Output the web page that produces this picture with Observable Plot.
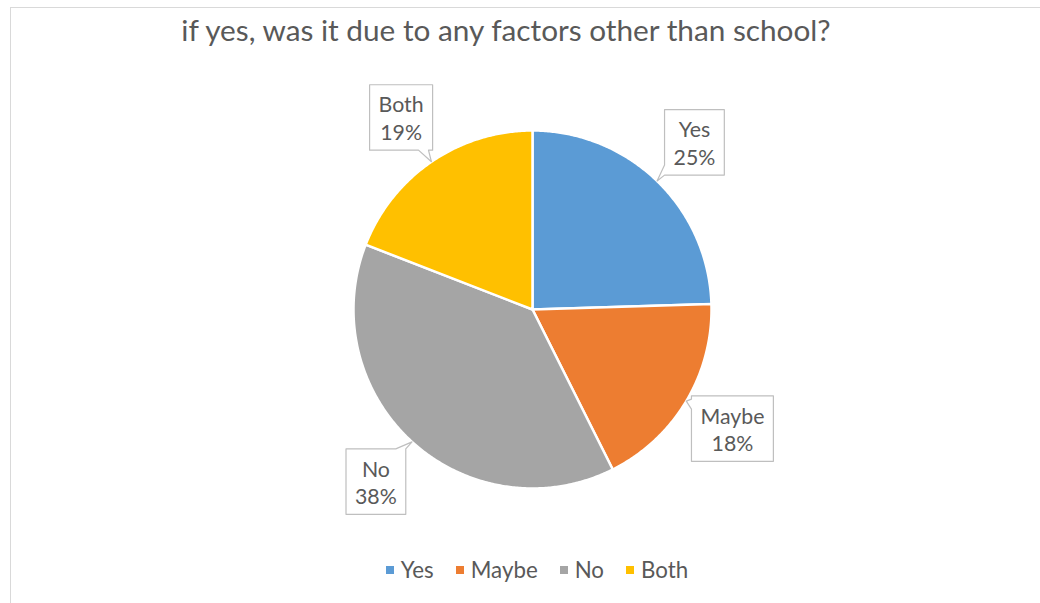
<!DOCTYPE html>
<html>
<head>
<meta charset="utf-8">
<script src="https://cdn.jsdelivr.net/npm/d3@7"></script>
<script src="https://cdn.jsdelivr.net/npm/@observablehq/plot@0.6"></script>
<style>
  html, body { margin: 0; padding: 0; background: #ffffff; }
  body { font-family: Lato, "Open Sans", sans-serif; color: #595959; width: 1040px; height: 603px; overflow: hidden; position: relative; }
  #frame { position: absolute; left: 10px; top: 7px; width: 1100px; height: 700px;
           border-left: 1px solid #d9d9d9; border-top: 1px solid #d9d9d9; pointer-events: none; }
  #title { box-sizing: border-box; height: 60px; width: 992px; margin-left: 10px; text-align: center;
           line-height: 1; white-space: nowrap; color: #595959; }
  #chart svg { display: block; }
  #legend { box-sizing: border-box; height: 58px; width: 1040px; padding-left: 34px;
            display: flex; justify-content: center; align-items: flex-start; color: #595959; }
  .item { display: flex; align-items: center; margin: 0 11px; line-height: 1; }
  .sw { width: 8px; height: 8px; margin-right: 7px; }
</style>
</head>
<body>
<div id="frame"></div>
<div id="title"></div>
<div id="chart"></div>
<div id="legend"></div>
<script>
// ---- data ----
const titleText = "if yes, was it due to any factors other than school?";
const categories = ["Yes", "Maybe", "No", "Both"];
const values = [24.5, 18.1, 38.3, 19.1];
const colors = ["#5B9BD5", "#ED7D31", "#A5A5A5", "#FFC000"];

// ---- layout / style ----
const W = 1040, H = 485, R = 179, CX = 532, CY = 249;
const FONT = "Lato";
const canvas = document.createElement("canvas");
const ctx = canvas.getContext("2d");
function measure(t, fs) { ctx.font = `${fs}px ${FONT}`; return ctx.measureText(t).width; }
const titleFS = 30 * 653 / measure(titleText, 30);
const labelFS = 20 * 64 / measure("Maybe", 20);
const legendFS = 20 * 67 / measure("Maybe", 20);

const titleEl = document.getElementById("title");
titleEl.textContent = titleText;
titleEl.style.fontSize = titleFS + "px";
titleEl.style.fontFamily = FONT;
titleEl.style.paddingTop = (41 - 0.887 * titleFS) + "px";

// ---- slices ----
const total = d3.sum(values);
let cum = 0;
const slices = categories.map((c, i) => {
  const a0 = cum / total * 2 * Math.PI;
  cum += values[i];
  const a1 = cum / total * 2 * Math.PI;
  return { c, v: values[i], a0, a1, mid: (a0 + a1) / 2, pct: Math.round(values[i] / total * 100) };
});
const slicePts = slices.flatMap(s => {
  const n = Math.max(2, Math.ceil((s.a1 - s.a0) / (Math.PI / 360)));
  const pts = [{ key: s.c, x: 0, y: 0 }];
  for (let k = 0; k <= n; k++) {
    const a = s.a0 + (s.a1 - s.a0) * k / n;
    pts.push({ key: s.c, x: Math.sin(a), y: Math.cos(a) });
  }
  return pts;
});

// ---- callout labels ----
const LR = 1.3, TIP = 1.0, LH = 1.3, B = 5;
const labels = slices.map(s => {
  const lx = Math.sin(s.mid) * LR, ly = Math.cos(s.mid) * LR;
  const tw = Math.max(measure(s.c, labelFS), measure(s.pct + "%", labelFS));
  return { ...s, lx, ly, hw: (tw + 18) / 2, hh: (2 * LH * labelFS + 10) / 2 };
});
const clamp = (v, lo, hi) => Math.max(lo, Math.min(hi, v));
const calloutPts = labels.flatMap(L => {
  const tx = (Math.sin(L.mid) * TIP - L.lx) * R;
  const ty = -(Math.cos(L.mid) * TIP - L.ly) * R;
  const {hw, hh} = L;
  const tX = Math.abs(tx) > 1e-9 ? hw / Math.abs(tx) : Infinity;
  const tY = Math.abs(ty) > 1e-9 ? hh / Math.abs(ty) : Infinity;
  let edge;
  if (tX < tY) edge = tx > 0 ? "right" : "left"; else edge = ty > 0 ? "bottom" : "top";
  const t = Math.min(tX, tY);
  const px = clamp(tx * t, -hw + B, hw - B), py = clamp(ty * t, -hh + B, hh - B);
  const tip = [tx, ty];
  const poly = [];
  poly.push([-hw, -hh]);
  if (edge === "top") poly.push([px - B, -hh], tip, [px + B, -hh]);
  poly.push([hw, -hh]);
  if (edge === "right") poly.push([hw, py - B], tip, [hw, py + B]);
  poly.push([hw, hh]);
  if (edge === "bottom") poly.push([px + B, hh], tip, [px - B, hh]);
  poly.push([-hw, hh]);
  if (edge === "left") poly.push([-hw, py + B], tip, [-hw, py - B]);
  return poly.map(([a, b]) => ({ key: L.c, x: L.lx + a / R, y: L.ly - b / R }));
});

const plot = Plot.plot({
  width: W, height: H, margin: 0,
  x: { domain: [-CX / R, (W - CX) / R], axis: null },
  y: { domain: [-(H - CY) / R, CY / R], axis: null },
  color: { domain: categories, range: colors },
  style: { fontFamily: FONT, background: "transparent", overflow: "visible" },
  marks: [
    Plot.line(slicePts, { x: "x", y: "y", z: "key", fill: "key", stroke: "white", strokeWidth: 2.5, strokeLinejoin: "round", curve: "linear-closed" }),
    Plot.line(calloutPts, { x: "x", y: "y", z: "key", fill: "white", stroke: "#bfbfbf", strokeWidth: 1.2, curve: "linear-closed" }),
    Plot.text(labels, { x: "lx", y: "ly", text: d => `${d.c}\n${d.pct}%`, fontSize: labelFS, lineHeight: LH, fill: "#595959" })
  ]
});
document.getElementById("chart").appendChild(plot);

// ---- legend ----
const legend = document.getElementById("legend");
legend.style.fontFamily = FONT;
legend.style.fontSize = legendFS + "px";
legend.style.paddingTop = (25 - legendFS / 2) + "px";
categories.forEach((c, i) => {
  const item = document.createElement("div");
  item.className = "item";
  const sw = document.createElement("div");
  sw.className = "sw";
  sw.style.background = colors[i];
  const lab = document.createElement("span");
  lab.textContent = c;
  item.appendChild(sw); item.appendChild(lab);
  legend.appendChild(item);
});
</script>
</body>
</html>
